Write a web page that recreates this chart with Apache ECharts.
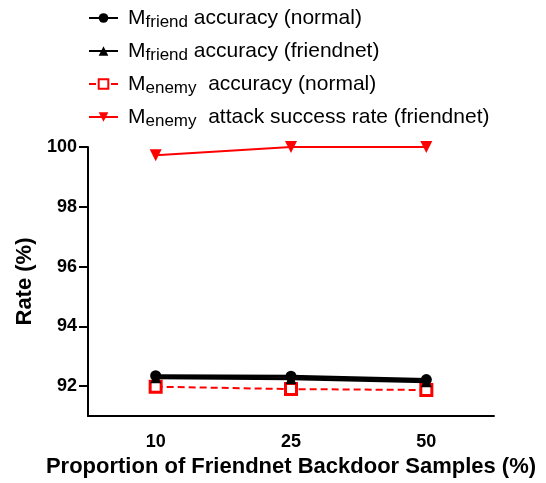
<!DOCTYPE html>
<html>
<head>
<meta charset="utf-8">
<script src="https://cdn.jsdelivr.net/npm/echarts@6/dist/echarts.min.js"></script>
<style>
  html, body { margin: 0; padding: 0; background: #fff; }
  #chart { width: 546px; height: 483px; }
</style>
</head>
<body>
<div id="chart"></div>
<script>
// 数据
var categories = ['10', '25', '50'];
var friendNormal = [92.35, 92.33, 92.22];
var friendFriendnet = [92.28, 92.25, 92.15];
var enemyNormal = [91.98, 91.9, 91.87];
var enemyAttack = [99.72, 100, 100];
var yTicks = [92, 94, 96, 98, 100];

var myChart = echarts.init(document.getElementById('chart'));
var font = 'Arial, "Liberation Sans", sans-serif';

var option = {
    animation: false,
    legend: {
        orient: 'vertical',
        left: 83,
        top: 0,
        itemWidth: 29,
        itemHeight: 12,
        itemGap: 7,
        textStyle: {
            fontFamily: font,
            fontSize: 21,
            lineHeight: 26,
            color: '#000',
            padding: [0, 0, 0, 5],
            rich: {
                sub: {
                    fontFamily: font,
                    fontSize: 17,
                    color: '#000',
                    padding: [9, 0, 0, 0]
                }
            }
        },
        formatter: function (name) {
            var map = {
                fn: 'M{sub|friend} accuracy (normal)',
                ff: 'M{sub|friend} accuracy (friendnet)',
                en: 'M{sub|enemy}  accuracy (normal)',
                ea: 'M{sub|enemy}  attack success rate (friendnet)'
            };
            return map[name];
        },
        data: ['fn', 'ff', 'en', 'ea']
    },
    grid: {
        left: 88,
        right: 52,
        top: 147,
        bottom: 67
    },
    xAxis: {
        type: 'category',
        data: categories,
        boundaryGap: true,
        name: 'Proportion of Friendnet Backdoor Samples (%)',
        nameLocation: 'middle',
        nameGap: 40,
        nameTextStyle: {
            fontFamily: font,
            fontSize: 22,
            fontWeight: 'bold',
            color: '#000'
        },
        axisLine: { lineStyle: { color: '#000', width: 2 } },
        axisTick: { alignWithLabel: true, length: 8, lineStyle: { color: '#000', width: 2 } },
        axisLabel: {
            fontFamily: font,
            fontSize: 18,
            fontWeight: 'bold',
            color: '#000',
            margin: 17
        },
        splitLine: { show: false }
    },
    yAxis: {
        type: 'value',
        min: 91,
        max: 100,
        name: 'Rate (%)',
        nameLocation: 'middle',
        nameGap: 41,
        nameTextStyle: {
            fontFamily: font,
            fontSize: 22,
            fontWeight: 'bold',
            color: '#000'
        },
        axisLine: { show: true, lineStyle: { color: '#000', width: 2 } },
        axisTick: { show: true, length: 9, customValues: yTicks, lineStyle: { color: '#000', width: 2 } },
        axisLabel: {
            customValues: yTicks,
            fontFamily: font,
            fontSize: 18,
            fontWeight: 'bold',
            color: '#000',
            margin: 11
        },
        splitLine: { show: false }
    },
    series: [{
        name: 'fn',
        type: 'line',
        data: friendNormal,
        symbol: 'circle',
        symbolSize: 11,
        itemStyle: { color: '#000' },
        lineStyle: { color: '#000', width: 3 },
        z: 4
    }, {
        name: 'ff',
        type: 'line',
        data: friendFriendnet,
        symbol: 'triangle',
        symbolSize: 11,
        itemStyle: { color: '#000' },
        lineStyle: { color: '#000', width: 3 },
        z: 4
    }, {
        name: 'en',
        type: 'line',
        data: enemyNormal,
        symbol: 'rect',
        symbolSize: 11,
        itemStyle: { color: '#fff', borderColor: '#ff0000', borderWidth: 3 },
        lineStyle: { color: '#ff0000', width: 2, type: [7, 4] },
        z: 3
    }, {
        name: 'ea',
        type: 'line',
        data: enemyAttack,
        symbol: 'triangle',
        symbolRotate: 180,
        symbolSize: 12,
        itemStyle: { color: '#ff0000' },
        lineStyle: { color: '#ff0000', width: 2 },
        z: 3
    }]
};

myChart.setOption(option);
</script>
</body>
</html>
